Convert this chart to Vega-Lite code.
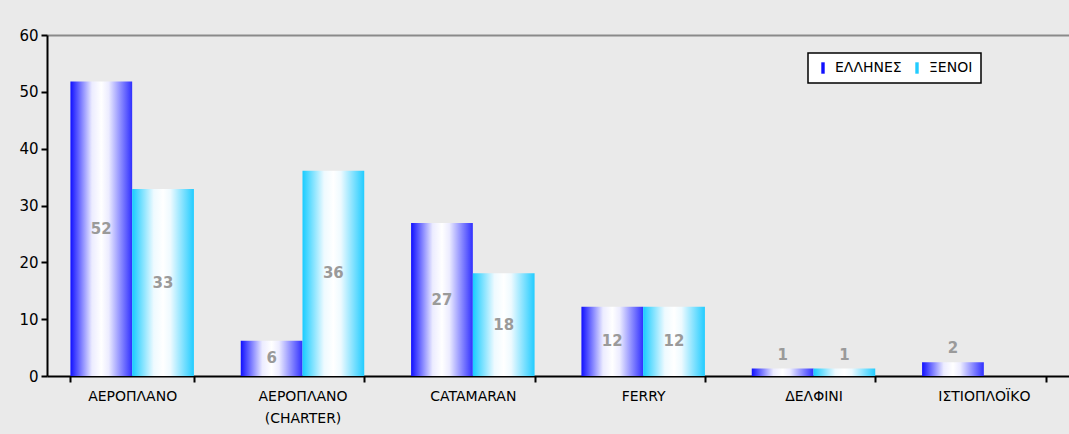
{
  "$schema": "https://vega.github.io/schema/vega-lite/v6.json",
  "width": 1022,
  "height": 341,
  "autosize": {"type": "none"},
  "padding": {"left": 47, "top": 35, "right": 0, "bottom": 58},
  "background": "#eaeaea",
  "config": {"view": {"stroke": null}, "font": "DejaVu Sans"},
  "data": {
    "values": [
      {"mode": "ΑΕΡΟΠΛΑΝΟ", "group": "ΕΛΛΗΝΕΣ", "value": 51.8},
      {"mode": "ΑΕΡΟΠΛΑΝΟ", "group": "ΞΕΝΟΙ", "value": 32.9},
      {"mode": "ΑΕΡΟΠΛΑΝΟ (CHARTER)", "group": "ΕΛΛΗΝΕΣ", "value": 6.2},
      {"mode": "ΑΕΡΟΠΛΑΝΟ (CHARTER)", "group": "ΞΕΝΟΙ", "value": 36.1},
      {"mode": "CATAMARAN", "group": "ΕΛΛΗΝΕΣ", "value": 26.9},
      {"mode": "CATAMARAN", "group": "ΞΕΝΟΙ", "value": 18.1},
      {"mode": "FERRY", "group": "ΕΛΛΗΝΕΣ", "value": 12.2},
      {"mode": "FERRY", "group": "ΞΕΝΟΙ", "value": 12.2},
      {"mode": "ΔΕΛΦΙΝΙ", "group": "ΕΛΛΗΝΕΣ", "value": 1.3},
      {"mode": "ΔΕΛΦΙΝΙ", "group": "ΞΕΝΟΙ", "value": 1.3},
      {"mode": "ΙΣΤΙΟΠΛΟΪΚΟ", "group": "ΕΛΛΗΝΕΣ", "value": 2.4}
    ]
  },
  "encoding": {
    "x": {
      "field": "mode",
      "type": "nominal",
      "sort": null,
      "scale": {"paddingInner": 0.275, "paddingOuter": 0.1375},
      "axis": {
        "title": null,
        "labelAngle": 0,
        "labelFontSize": 14,
        "labelColor": "black",
        "labelPadding": 7,
        "labelLineHeight": 22,
        "labelExpr": "split(datum.label, ' ')",
        "tickBand": "extent",
        "tickSize": 6,
        "tickColor": "black",
        "tickWidth": 2,
        "domainColor": "black",
        "domainWidth": 2
      }
    },
    "xOffset": {
      "field": "group",
      "type": "nominal",
      "scale": {"domain": ["ΕΛΛΗΝΕΣ", "ΞΕΝΟΙ"], "paddingInner": 0, "paddingOuter": 0}
    },
    "y": {
      "field": "value",
      "type": "quantitative",
      "scale": {"domain": [0, 60], "nice": false},
      "axis": {
        "title": null,
        "values": [0, 10, 20, 30, 40, 50, 60],
        "labelFontSize": 15,
        "labelColor": "black",
        "labelPadding": 3,
        "tickSize": 6,
        "tickColor": "black",
        "tickWidth": 2,
        "domainColor": "black",
        "domainWidth": 2,
        "grid": true,
        "gridWidth": 2,
        "gridColor": {"condition": {"test": "datum.value == 60", "value": "#8a8a8a"}, "value": "transparent"}
      }
    }
  },
  "layer": [
    {
      "transform": [{"filter": "datum.group == 'ΕΛΛΗΝΕΣ'"}],
      "mark": {
        "type": "bar",
        "fill": {"gradient": "linear", "x1": 0, "y1": 0, "x2": 1, "y2": 0, "stops": [
          {"offset": 0, "color": "#1010ff"},
          {"offset": 0.35, "color": "#ececff"},
          {"offset": 0.5, "color": "#ffffff"},
          {"offset": 0.62, "color": "#ececff"},
          {"offset": 1, "color": "#3030ff"}
        ]}
      }
    },
    {
      "transform": [{"filter": "datum.group == 'ΞΕΝΟΙ'"}],
      "mark": {
        "type": "bar",
        "fill": {"gradient": "linear", "x1": 0, "y1": 0, "x2": 1, "y2": 0, "stops": [
          {"offset": 0, "color": "#18ccff"},
          {"offset": 0.35, "color": "#eefaff"},
          {"offset": 0.5, "color": "#ffffff"},
          {"offset": 0.62, "color": "#eefaff"},
          {"offset": 1, "color": "#22ccff"}
        ]}
      }
    },
    {
      "mark": {"type": "point", "filled": true, "size": 0, "opacity": 0},
      "encoding": {
        "color": {
          "field": "group",
          "type": "nominal",
          "scale": {"domain": ["ΕΛΛΗΝΕΣ", "ΞΕΝΟΙ"], "range": ["#1010ff", "#22ccff"]},
          "legend": {
            "orient": "none",
            "legendX": 761,
            "legendY": 18,
            "direction": "horizontal",
            "title": null,
            "fillColor": "white",
            "strokeColor": "black",
            "padding": 8,
            "labelFontSize": 14,
            "labelColor": "black",
            "labelLimit": 200,
            "labelOffset": 5,
            "symbolType": "M-0.3,-1H0.3V1H-0.3Z",
            "symbolSize": 130,
            "symbolOpacity": 1,
            "symbolStrokeWidth": 0,
            "columnPadding": 8,
            "encode": {
              "legend": {"update": {"strokeWidth": {"value": 1.5}}},
              "symbols": {
                "update": {
                  "fill": {"signal": "datum.label == 'ΕΛΛΗΝΕΣ' ? {gradient: 'linear', x1: 0, y1: 0, x2: 1, y2: 0, stops: [{offset: 0, color: '#1010ff'}, {offset: 0.5, color: '#ffffff'}, {offset: 1, color: '#3030ff'}]} : {gradient: 'linear', x1: 0, y1: 0, x2: 1, y2: 0, stops: [{offset: 0, color: '#18ccff'}, {offset: 0.5, color: '#ffffff'}, {offset: 1, color: '#22ccff'}]}"},
                  "opacity": {"value": 1}
                }
              }
            }
          }
        }
      }
    },
    {
      "transform": [
        {"filter": "datum.value >= 5"},
        {"calculate": "datum.value / 2", "as": "mid"}
      ],
      "mark": {"type": "text", "fontSize": 15, "fontWeight": "bold", "color": "#9a9a9a", "baseline": "middle"},
      "encoding": {
        "y": {"field": "mid", "type": "quantitative"},
        "text": {"field": "value", "type": "quantitative", "format": ".0f"}
      }
    },
    {
      "transform": [{"filter": "datum.value < 5"}],
      "mark": {"type": "text", "fontSize": 15, "fontWeight": "bold", "color": "#9a9a9a", "baseline": "bottom", "dy": -6},
      "encoding": {
        "text": {"field": "value", "type": "quantitative", "format": ".0f"}
      }
    }
  ]
}
